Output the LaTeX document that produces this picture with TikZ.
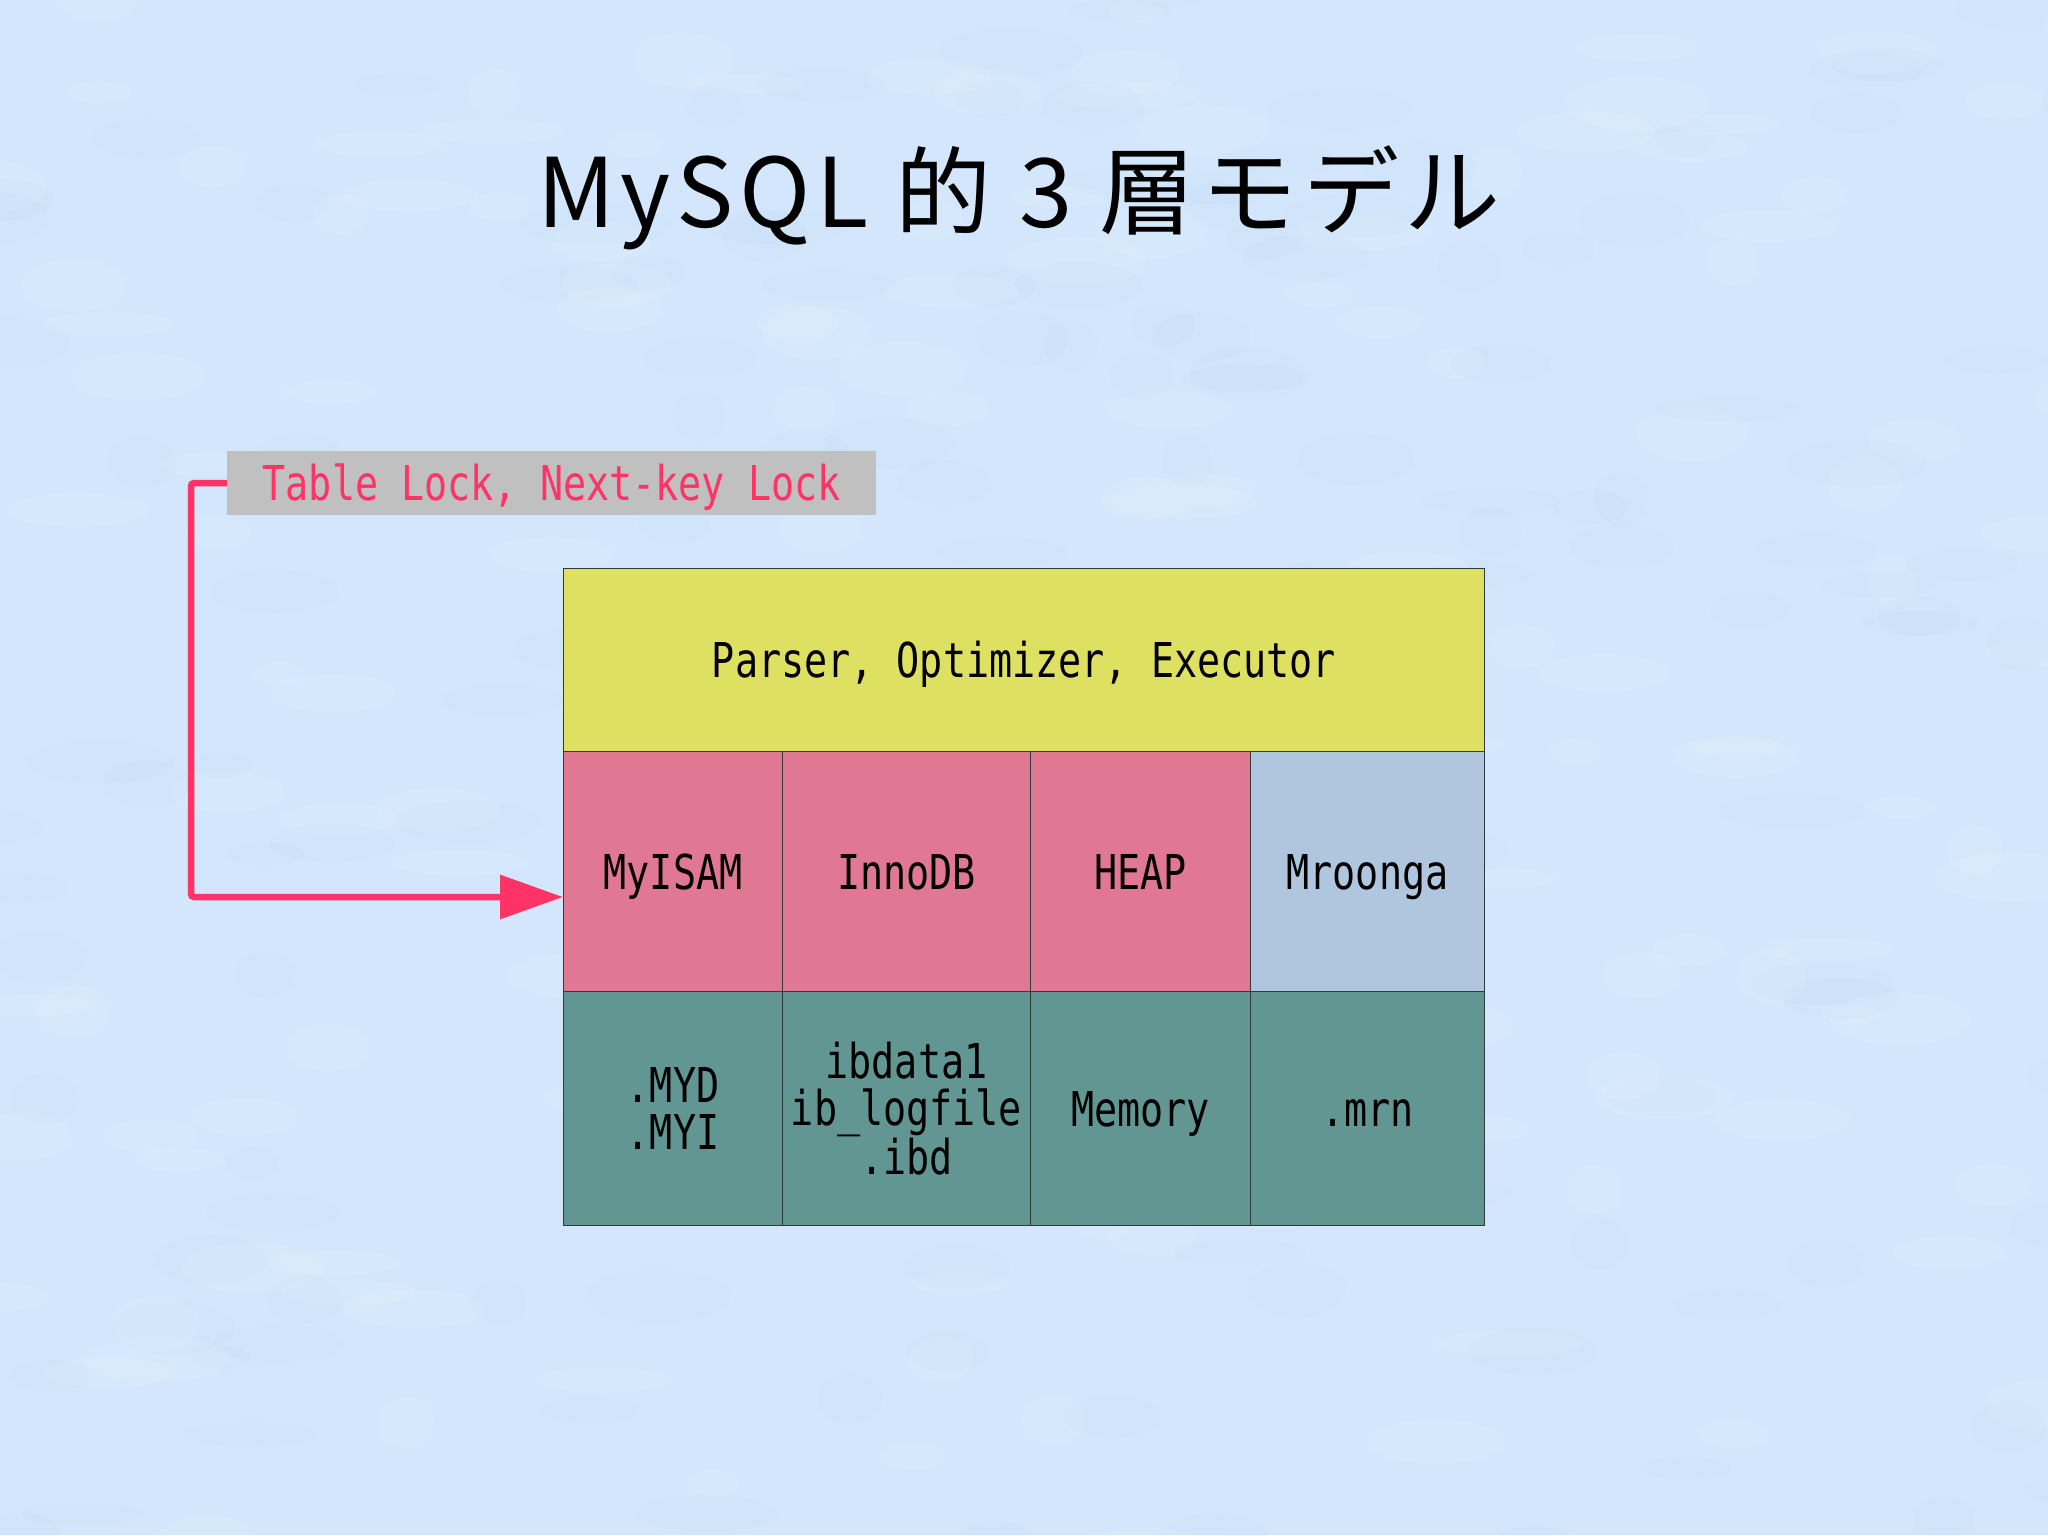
\documentclass[tikz,border=0pt]{standalone}
\usepackage{fontspec}
\usetikzlibrary{arrows.meta,calc}
\newfontfamily\handfont[FakeStretch=0.8]{DejaVu Sans Mono}
\newfontfamily\cjkfont[LetterSpace=6]{Noto Sans CJK JP}
\definecolor{bgblue}{HTML}{D3E6FB}
\definecolor{bgdark}{HTML}{B9D6F8}
\definecolor{cellyellow}{HTML}{DEE062}
\definecolor{cellpink}{HTML}{E07893}
\definecolor{celllight}{HTML}{AFC6DE}
\definecolor{cellteal}{HTML}{619692}
\definecolor{lblgray}{HTML}{C0C0C0}
\definecolor{lockred}{HTML}{FF3366}
\definecolor{edge}{HTML}{2F3B3A}
\tikzset{
  cell/.style={draw=edge, line width=1pt, inner sep=0pt, anchor=north west,
    align=center, font=\handfont\fontsize{48}{47}\selectfont, text=black},
  oneline/.style={text height=35pt, text depth=0pt},
  lblbox/.style={fill=lblgray, inner sep=0pt, anchor=north west, minimum width=649pt,
    minimum height=64pt, font=\handfont\fontsize{48}{48}\selectfont, text=lockred},
  arrowline/.style={draw=lockred, line width=6.5pt, rounded corners=3pt,
    -{Triangle[length=63pt,width=43pt]}}
}
\begin{document}
\begin{tikzpicture}[x=1pt,y=-1pt]
\useasboundingbox (0,0) rectangle (2048,1535);
\fill[bgblue] (0,0) rectangle (2048,1535);
% cloudy background texture
\pgfmathsetseed{7}
\foreach \i in {1,...,320}{
  \pgfmathsetmacro{\cx}{rnd*2100-20}
  \pgfmathsetmacro{\cy}{rnd*1580-20}
  \pgfmathsetmacro{\rx}{25+rnd*50}
  \pgfmathsetmacro{\ry}{10+rnd*18}
  \pgfmathsetmacro{\wh}{rnd}
  \ifdim\wh pt<0.5pt
    \fill[white, opacity=0.09] (\cx,\cy) ellipse [x radius=\rx, y radius=\ry];
  \else
    \fill[bgdark, opacity=0.1] (\cx,\cy) ellipse [x radius=\rx, y radius=\ry];
  \fi
}
% title
\node[font=\cjkfont\fontsize{96}{110}\selectfont] (title) at (1019,198) {MySQL 的 3 層モデル};
% label
\node[lblbox, oneline] (lbl) at (227,451) {Table Lock, Next-key Lock};
% table
\node[cell, oneline, fill=cellyellow, minimum width=921pt, minimum height=183pt] (exec) at (563,568) {Parser, Optimizer, Executor};
\node[cell, oneline, fill=cellpink, minimum width=219pt, minimum height=240pt] (myisam) at (563,751) {MyISAM};
\node[cell, oneline, fill=cellpink, minimum width=248pt, minimum height=240pt] (innodb) at (782,751) {InnoDB};
\node[cell, oneline, fill=cellpink, minimum width=220pt, minimum height=240pt] (heap) at (1030,751) {HEAP};
\node[cell, oneline, fill=celllight, minimum width=234pt, minimum height=240pt] (mroonga) at (1250,751) {Mroonga};
\node[cell, fill=cellteal, minimum width=219pt, minimum height=234pt] (myd) at (563,991) {.MYD\\.MYI};
\node[cell, fill=cellteal, minimum width=248pt, minimum height=234pt] (ibd) at (782,991) {ibdata1\\ib\_logfile\\.ibd};
\node[cell, oneline, fill=cellteal, minimum width=220pt, minimum height=234pt] (mem) at (1030,991) {Memory};
\node[cell, oneline, fill=cellteal, minimum width=234pt, minimum height=234pt] (mrn) at (1250,991) {.mrn};
% arrow
\coordinate (bend) at (191,483);
\coordinate (tipc) at ($(myisam.north west)+(0,146)$);
\draw[arrowline] (lbl.west) -- (bend) |- (tipc);
\end{tikzpicture}
\end{document}
